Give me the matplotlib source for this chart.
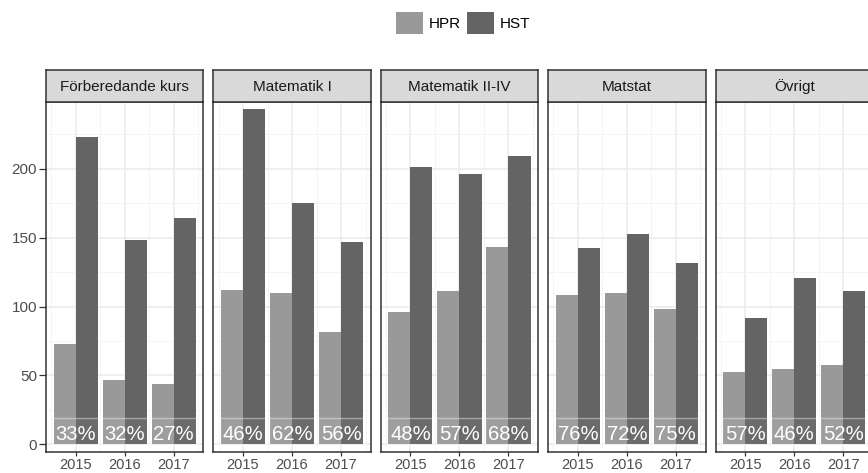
import matplotlib
matplotlib.use("Agg")
import matplotlib.pyplot as plt
from matplotlib.patches import Rectangle, Patch
import numpy as np

plt.rcParams['font.family'] = ['Liberation Sans', 'DejaVu Sans']

categories = ['Förberedande kurs', 'Matematik I', 'Matematik II-IV', 'Matstat', 'Övrigt']
years = [2015, 2016, 2017]
hpr = [[73, 47, 44], [112, 109.5, 81.5], [96, 111.5, 143], [108.5, 109.5, 98.5], [52.4, 55, 57.5]]
hst = [[223, 148, 164], [243.5, 175.5, 146.5], [201.5, 196, 209.5], [142.5, 152.5, 131.5], [92, 121, 111]]
pct = [['33%', '32%', '27%'], ['46%', '62%', '56%'], ['48%', '57%', '68%'],
       ['76%', '72%', '75%'], ['57%', '46%', '52%']]
series = ['HPR', 'HST']
colors = ['#999999', '#646464']
y_major = [0, 50, 100, 150, 200]

W, H = 868, 473
fig = plt.figure(figsize=(W / 100, H / 100), dpi=100)

panel_left = [46, 213.4, 380.8, 548.2, 715.6]
pw = 157.3
p_top, p_bot = 102, 452
s_top = 70

bw = 0.45
for i, cat in enumerate(categories):
    l = panel_left[i]
    ax = fig.add_axes([l / W, 1 - p_bot / H, pw / W, (p_bot - p_top) / H])
    ax.set_xlim(2014.395, 2017.605)
    ax.set_ylim(-5.6, 248.5)
    x = np.array(years, dtype=float)
    ax.bar(x - bw / 2, hpr[i], width=bw, color=colors[0], zorder=2)
    ax.bar(x + bw / 2, hst[i], width=bw, color=colors[1], zorder=2)
    for j, yr in enumerate(years):
        ax.add_patch(Rectangle((yr - 0.48, -0.6), 0.96, 19.6, facecolor=(1, 1, 1, 0.05),
                               edgecolor=(1, 1, 1, 0.4), lw=1.0, zorder=3))
        ax.text(yr, 3.4, pct[i][j], ha='center', va='baseline', color='white',
                fontsize=14.6, zorder=4)
    ax.set_xticks(years)
    ax.set_xticks([2014.5, 2015.5, 2016.5, 2017.5], minor=True)
    ax.set_yticks(y_major)
    ax.set_yticks([25, 75, 125, 175, 225], minor=True)
    ax.grid(which='major', color='#ebebeb', lw=1.1, zorder=0)
    ax.grid(which='minor', color='#f3f3f3', lw=0.6, zorder=0)
    ax.set_axisbelow(True)
    ax.tick_params(which='minor', length=0)
    ax.tick_params(axis='x', which='major', length=3, width=0.9, color='#333333',
                   labelsize=10.5, labelcolor='#4d4d4d', pad=1)
    if i == 0:
        ax.tick_params(axis='y', which='major', length=5, width=0.9, color='#333333',
                       labelsize=11, labelcolor='#4d4d4d', pad=1.5)
    else:
        ax.tick_params(axis='y', which='major', length=0, labelleft=False)
    for sp in ax.spines.values():
        sp.set_color('#333333')
        sp.set_linewidth(1.1)

    sax = fig.add_axes([l / W, 1 - p_top / H, pw / W, (p_top - s_top) / H])
    sax.set_facecolor('#d9d9d9')
    sax.set_xticks([])
    sax.set_yticks([])
    for sp in sax.spines.values():
        sp.set_color('#333333')
        sp.set_linewidth(1.1)
    sax.text(0.5, 0.47, cat, ha='center', va='center', fontsize=11, color='#1a1a1a',
             transform=sax.transAxes)

handles = [Patch(facecolor=c, edgecolor='none') for c in colors]
fig.legend(handles, series, loc='center', bbox_to_anchor=(463 / W, 1 - 23 / H), ncol=2,
           frameon=False, fontsize=11, handlelength=1.75, handleheight=1.75,
           handletextpad=0.4, columnspacing=0.4, borderaxespad=0)

fig.savefig('out.png', dpi=100)
